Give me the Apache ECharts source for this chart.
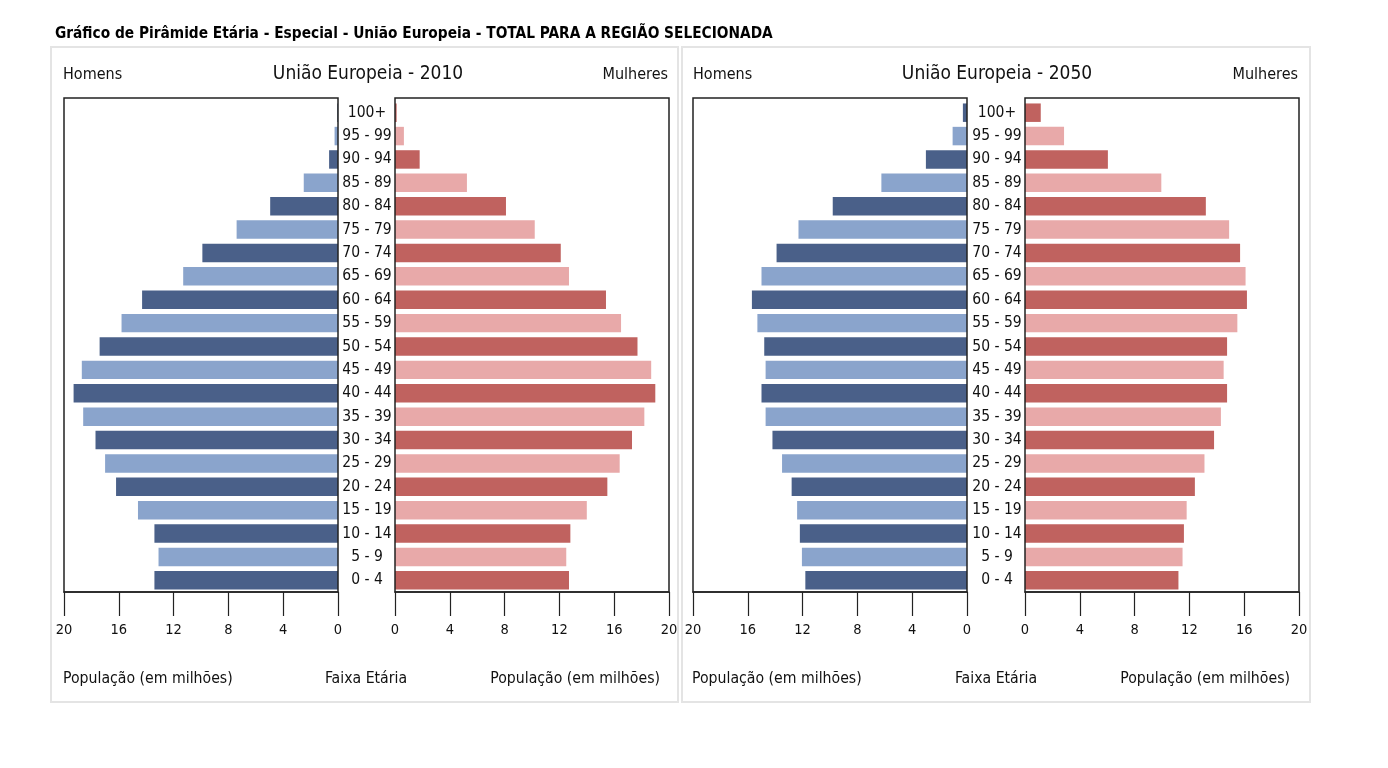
<!DOCTYPE html>
<html>
<head>
<meta charset="utf-8">
<script src="https://cdn.jsdelivr.net/npm/echarts@6/dist/echarts.min.js"></script>
<style>
html,body{margin:0;padding:0;background:#fff;}
#c{width:1388px;height:768px;}
</style>
</head>
<body>
<div id="c"></div>
<script>
// Age groups (bottom to top)
var ageGroups = ['0 - 4','5 - 9','10 - 14','15 - 19','20 - 24','25 - 29','30 - 34','35 - 39','40 - 44','45 - 49','50 - 54','55 - 59','60 - 64','65 - 69','70 - 74','75 - 79','80 - 84','85 - 89','90 - 94','95 - 99','100+'];
// Population in millions
var men2010   = [13.4,13.1,13.4,14.6,16.2,17.0,17.7,18.6,19.3,18.7,17.4,15.8,14.3,11.3,9.9,7.4,4.95,2.5,0.65,0.25,0.05];
var women2010 = [12.7,12.5,12.8,14.0,15.5,16.4,17.3,18.2,19.0,18.7,17.7,16.5,15.4,12.7,12.1,10.2,8.1,5.25,1.8,0.65,0.12];
var men2050   = [11.8,12.05,12.2,12.4,12.8,13.5,14.2,14.7,15.0,14.7,14.8,15.3,15.7,15.0,13.9,12.3,9.8,6.25,3.0,1.05,0.3];
var women2050 = [11.2,11.5,11.6,11.8,12.4,13.1,13.8,14.3,14.75,14.5,14.75,15.5,16.2,16.1,15.7,14.9,13.2,9.95,6.05,2.85,1.15];
var xTicks = [0,4,8,12,16,20];

var mainTitle = 'Gráfico de Pirâmide Etária - Especial - União Europeia - TOTAL PARA A REGIÃO SELECIONADA';
var panelTitles = ['União Europeia - 2010','União Europeia - 2050'];

var FONT = "'DejaVu Sans Condensed','Liberation Sans Narrow','DejaVu Sans',sans-serif";
var blueDark = '#4a6089', blueLight = '#8aa4cc', redDark = '#c0625f', redLight = '#e8a9a9';

function colorFn(dark, light){
  return function(p){ return p.dataIndex % 2 === 0 ? dark : light; };
}

var gridTop = 101, gridH = 491, gridW = 274;
var gridLefts = [64, 395, 693, 1025];
var grids = gridLefts.map(function(l){
  return {left:l, top:gridTop, width:gridW, height:gridH, show:false, containLabel:false};
});

var xAxes = [], yAxes = [], series = [];
var seriesData = [men2010, women2010, men2050, women2050];
for (var i = 0; i < 4; i++) {
  var isMen = (i % 2 === 0);
  xAxes.push({
    gridIndex:i, type:'value', min:0, max:20, interval:4, inverse:isMen,
    axisLine:{show:true, lineStyle:{color:'#222', width:1.5}},
    axisTick:{show:true, length:24, lineStyle:{color:'#222', width:1.2}},
    axisLabel:{show:true, margin:31, fontSize:14.5, color:'#111', fontFamily:FONT},
    splitLine:{show:false}
  });
  yAxes.push({
    gridIndex:i, type:'category', data:ageGroups, position: isMen ? 'right' : 'left',
    axisLine:{show:false},
    axisTick:{show:false},
    axisLabel:{show:!isMen, align:'center', margin:28, fontSize:15.5, color:'#111', fontFamily:FONT, interval:0, padding:[3,0,0,0]},
    splitLine:{show:false}
  });
  series.push({
    type:'bar', xAxisIndex:i, yAxisIndex:i, data:seriesData[i],
    barCategoryGap:'21%',
    itemStyle:{color: isMen ? colorFn(blueDark, blueLight) : colorFn(redDark, redLight)},
    silent:true, animation:false
  });
}

function txt(x, y, s, size, align, weight){
  return {type:'text', x:x, y:y, silent:true, style:{text:s, fill:'#111', font:(weight||'normal') + ' ' + size + 'px ' + FONT, textAlign:align, textVerticalAlign:'middle'}};
}

var graphics = [
  {type:'rect', shape:{x:51, y:47, width:627, height:655}, style:{fill:'#fff', stroke:'#e4e4e4', lineWidth:2}, z:-10, silent:true},
  {type:'rect', shape:{x:682, y:47, width:628, height:655}, style:{fill:'#fff', stroke:'#e4e4e4', lineWidth:2}, z:-10, silent:true},
  {type:'text', x:55, y:34, silent:true, style:{text:mainTitle, fill:'#000', font:"bold 15.3px 'Liberation Sans Narrow','Arial Narrow','DejaVu Sans Condensed',sans-serif", textAlign:'left', textVerticalAlign:'middle'}},
  txt(63, 75, 'Homens', 16, 'left'),
  txt(368, 74, panelTitles[0], 19, 'center'),
  txt(668, 75, 'Mulheres', 16, 'right'),
  txt(63, 679, 'População (em milhões)', 15.7, 'left'),
  txt(366, 679, 'Faixa Etária', 15.7, 'center'),
  txt(660, 679, 'População (em milhões)', 15.7, 'right'),
  txt(693, 75, 'Homens', 16, 'left'),
  txt(997, 74, panelTitles[1], 19, 'center'),
  txt(1298, 75, 'Mulheres', 16, 'right'),
  txt(692, 679, 'População (em milhões)', 15.7, 'left'),
  txt(996, 679, 'Faixa Etária', 15.7, 'center'),
  txt(1290, 679, 'População (em milhões)', 15.7, 'right')
];
// plot frames around each half-pyramid
gridLefts.forEach(function(l){
  graphics.push({type:'rect', shape:{x:l, y:98, width:gridW, height:494}, style:{fill:null, stroke:'#222', lineWidth:1.5}, z:10, silent:true});
});

var chart = echarts.init(document.getElementById('c'), null, {renderer:'canvas'});
chart.setOption({
  animation:false,
  backgroundColor:'#fff',
  textStyle:{fontFamily:FONT},
  grid:grids,
  xAxis:xAxes,
  yAxis:yAxes,
  series:series,
  graphic:graphics
});
</script>
</body>
</html>
